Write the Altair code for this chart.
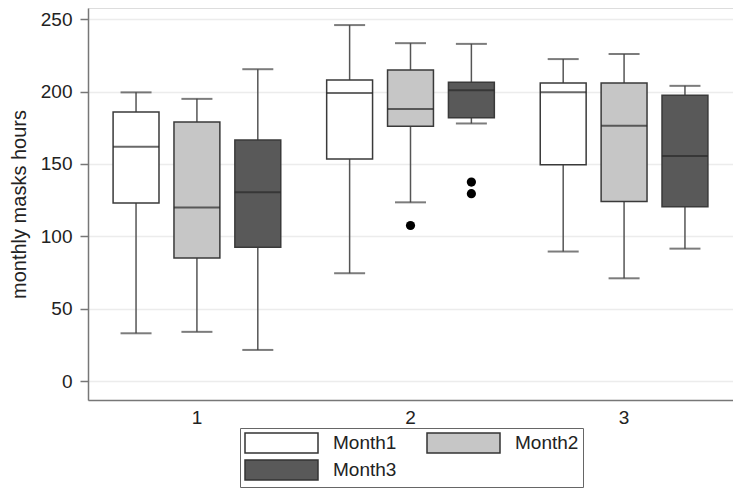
import altair as alt
import pandas as pd

groups = ["1", "2", "3"]
months = ["Month1", "Month2", "Month3"]

# per group, per month: lower whisker, q1, median, q3, upper whisker
low = [[33, 34, 21.5], [74.5, 123.5, 178], [89.5, 71, 91.5]]
q1 = [[123, 85, 92.5], [153.5, 176, 182], [149.5, 124, 120.5]]
median = [[162, 120, 130.5], [199, 188, 201], [199.5, 176.5, 155.5]]
q3 = [[186, 179, 166.5], [208, 215, 206.5], [206, 206, 197.5]]
high = [[199.5, 195, 215.5], [246, 233.5, 233], [222.5, 226, 204]]

out_group = ["2", "2", "2"]
out_month = ["Month2", "Month3", "Month3"]
out_value = [107.5, 137.5, 129.5]

fills = ["#ffffff", "#c6c6c6", "#595959"]

rows = []
for gi, g in enumerate(groups):
    for mi, m in enumerate(months):
        rows.append(dict(group=g, month=m, low=low[gi][mi], q1=q1[gi][mi],
                         median=median[gi][mi], q3=q3[gi][mi], high=high[gi][mi]))
df = pd.DataFrame(rows)
outs = pd.DataFrame(dict(group=out_group, month=out_month, value=out_value))

FONT = "Liberation Sans"
xs = alt.X("group:N", title=None, sort=groups,
           scale=alt.Scale(paddingInner=0, paddingOuter=0.01),
           axis=alt.Axis(labelAngle=0, ticks=False, labelFontSize=19, labelPadding=8,
                         domainColor="#777777", domainWidth=1.5, labelColor="#222222", grid=False))
xo = alt.XOffset("month:N", sort=months,
                 scale=alt.Scale(paddingInner=0.246, paddingOuter=0.377))
yscale = alt.Scale(domain=[-13.1, 257.8], nice=False, zero=False)

base = alt.Chart(df)

whisk = base.mark_rule(color="#555555", strokeWidth=1.5).encode(
    x=xs, xOffset=xo,
    y=alt.Y("low:Q", scale=yscale, title="monthly masks hours",
            axis=alt.Axis(values=[0, 50, 100, 150, 200, 250], tickSize=8, tickColor="#777777",
                          tickWidth=1.5, labelPadding=8, labelFontSize=19, titleFontSize=20,
                          titleFontWeight="normal", titlePadding=11, labelColor="#222222",
                          titleColor="#222222", domainColor="#777777", domainWidth=1.5,
                          grid=True, gridColor="#ececec", gridWidth=1.5)),
    y2="high:Q")

cap_lo = base.mark_tick(color="#444444", size=31, thickness=2).encode(
    x=xs, xOffset=xo, y=alt.Y("low:Q", scale=yscale))
cap_hi = base.mark_tick(color="#444444", size=31, thickness=2).encode(
    x=xs, xOffset=xo, y=alt.Y("high:Q", scale=yscale))

box = base.mark_bar(stroke="#3a3a3a", strokeWidth=1.5).encode(
    x=xs, xOffset=xo,
    y=alt.Y("q1:Q", scale=yscale), y2="q3:Q",
    fill=alt.Fill("month:N", sort=months,
                  scale=alt.Scale(domain=months, range=fills),
                  legend=alt.Legend(title=None, orient="none", legendX=152, legendY=420,
                                    direction="horizontal", columns=2,
                                    strokeColor="#666666", padding=4,
                                    rowPadding=1, columnPadding=27, labelOffset=67,
                                    labelFontSize=19, labelFont=FONT, labelColor="#222222",
                                    symbolType="M-1,-1H6.3V1H-1Z", symbolSize=400,
                                    symbolStrokeColor="#333333", symbolStrokeWidth=1.5,
                                    symbolOpacity=1)))

med = base.mark_tick(color="#2a2a2a", size=46, thickness=2).encode(
    x=xs, xOffset=xo, y=alt.Y("median:Q", scale=yscale))

pts = alt.Chart(outs).mark_circle(color="#000000", size=85, opacity=1).encode(
    x=xs, xOffset=xo, y=alt.Y("value:Q", scale=yscale))

chart = alt.layer(whisk, cap_lo, cap_hi, box, med, pts).properties(
    width=645, height=392,
    autosize=alt.AutoSizeParams(type="none"),
    padding={"left": 80, "top": 0, "right": 0, "bottom": 91},
).configure_view(stroke=None).configure(font=FONT)

chart.save("out.html", embed_options={"renderer": "svg", "actions": False})
